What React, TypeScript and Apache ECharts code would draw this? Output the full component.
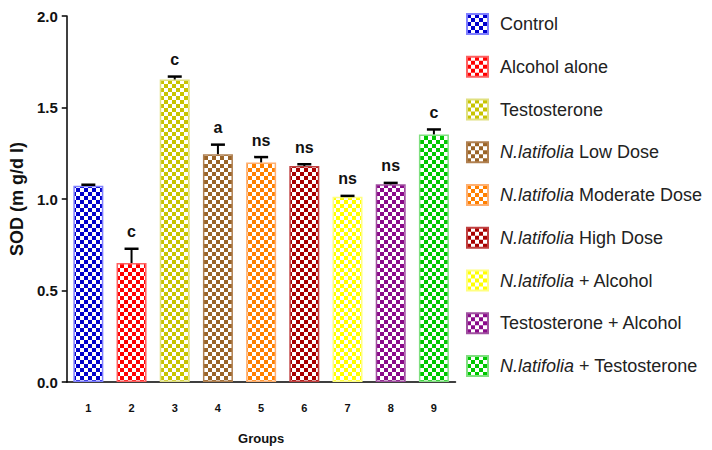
import { useEffect, useRef } from 'react';
import * as echarts from 'echarts';

const groups = ['1', '2', '3', '4', '5', '6', '7', '8', '9'];
const seriesNames = [
  'Control',
  'Alcohol alone',
  'Testosterone',
  'N.latifolia Low Dose',
  'N.latifolia Moderate Dose',
  'N.latifolia High Dose',
  'N.latifolia + Alcohol',
  'Testosterone + Alcohol',
  'N.latifolia + Testosterone',
];
const sodValues = [1.073, 0.65, 1.653, 1.245, 1.2, 1.18, 1.012, 1.08, 1.353];
const sodErrors = [0.005, 0.078, 0.016, 0.052, 0.029, 0.01, 0.005, 0.008, 0.027];
const sigLabels = ['', 'c', 'c', 'a', 'ns', 'ns', 'ns', 'ns', 'c'];
const colors = ['#0000cc', '#ff0000', '#c8c400', '#9a6428', '#ff8000', '#a80000', '#ffff00', '#8a0a8a', '#00c800'];
const borderColors = ['#8080ff', '#ff6060', '#e0e080', '#b08050', '#ffb070', '#c04040', '#ffff80', '#a050a0', '#80e080'];

const FONT = "'Liberation Sans Narrow', 'Liberation Sans', Arial, sans-serif";

function checker(color: string) {
  const c = document.createElement('canvas');
  c.width = 8;
  c.height = 8;
  const ctx = c.getContext('2d')!;
  ctx.fillStyle = '#ffffff';
  ctx.fillRect(0, 0, 8, 8);
  ctx.fillStyle = color;
  ctx.fillRect(0, 0, 4, 4);
  ctx.fillRect(4, 4, 4, 4);
  return c;
}

export default function App() {
  const ref = useRef<HTMLDivElement>(null);
  useEffect(() => {
    if (!ref.current) return;
    const chart = echarts.init(ref.current, null, { renderer: 'svg' });

    const barSeries = seriesNames.map((name, i) => ({
      name,
      type: 'bar',
      barWidth: 30,
      barGap: '-100%',
      data: groups.map((_, j) => (j === i ? sodValues[i] : '-')),
      itemStyle: {
        color: { image: checker(colors[i]), repeat: 'repeat' },
        borderColor: borderColors[i],
        borderWidth: 1.5,
      },
      emphasis: { disabled: true },
    }));

    const errData = groups.map((_, i) => [i, sodValues[i], sodValues[i] + sodErrors[i], sigLabels[i]]);

    const errSeries = {
      type: 'custom',
      name: 'err',
      data: errData,
      z: 10,
      renderItem: (params: any, api: any) => {
        const x = api.value(0);
        const lo = api.coord([x, api.value(1)]);
        const hi = api.coord([x, api.value(2)]);
        const label = errData[params.dataIndex][3] as string;
        const children: any[] = [
          {
            type: 'line',
            shape: { x1: lo[0], y1: lo[1], x2: hi[0], y2: hi[1] },
            style: { stroke: '#000', lineWidth: 2 },
          },
          {
            type: 'line',
            shape: { x1: hi[0] - 7, y1: hi[1], x2: hi[0] + 7, y2: hi[1] },
            style: { stroke: '#000', lineWidth: 2.5 },
          },
        ];
        if (label) {
          children.push({
            type: 'text',
            style: {
              text: label,
              x: hi[0],
              y: hi[1] - 9,
              align: 'center',
              verticalAlign: 'bottom',
              font: `bold 16px ${FONT}`,
              fill: '#111',
            },
          });
        }
        return { type: 'group', children };
      },
    };

    chart.setOption({
      animation: false,
      grid: { left: 64, top: 16, width: 391.5, height: 369, containLabel: false },
      legend: {
        orient: 'vertical',
        left: 466,
        top: 13,
        padding: 0,
        itemWidth: 21,
        itemHeight: 20,
        itemGap: 20.75,
        icon: 'rect',
        data: seriesNames,
        selectedMode: false,
        formatter: (name: string) => {
          if (name.startsWith('N.latifolia')) {
            return '{i|N.latifolia}{n|' + name.slice('N.latifolia'.length) + '}';
          }
          return '{n|' + name + '}';
        },
        textStyle: {
          padding: [0, 0, 0, 7],
          lineHeight: 20,
          rich: {
            i: { fontStyle: 'italic', fontSize: 18, lineHeight: 20, color: '#222', fontFamily: 'Liberation Sans, sans-serif' },
            n: { fontSize: 18, lineHeight: 20, color: '#222', fontFamily: 'Liberation Sans, sans-serif' },
          },
        },
      },
      xAxis: {
        type: 'category',
        data: groups,
        axisLine: { lineStyle: { color: '#000', width: 1.5 } },
        axisTick: { alignWithLabel: true, length: 6, lineStyle: { color: '#000', width: 1.5 } },
        axisLabel: { fontWeight: 'bold', fontSize: 11, color: '#111', margin: 20, fontFamily: FONT },
        name: 'Groups',
        nameLocation: 'middle',
        nameGap: 50,
        nameTextStyle: { fontWeight: 'bold', fontSize: 13, color: '#111', fontFamily: 'Liberation Sans, sans-serif' },
      },
      yAxis: {
        type: 'value',
        min: 0,
        max: 2,
        interval: 0.5,
        axisLine: { show: true, lineStyle: { color: '#000', width: 1.5 } },
        axisTick: { show: true, length: 5, lineStyle: { color: '#000', width: 1.5 } },
        splitLine: { show: false },
        axisLabel: {
          formatter: (v: number) => v.toFixed(1),
          fontWeight: 'bold',
          fontSize: 15,
          color: '#111',
          margin: 9,
          fontFamily: FONT,
        },
        name: 'SOD (m g/d l)',
        nameLocation: 'middle',
        nameGap: 40,
        nameRotate: 90,
        nameTextStyle: { fontWeight: 'bold', fontSize: 18, color: '#111', fontFamily: 'Liberation Sans, sans-serif' },
      },
      series: [...barSeries, errSeries],
    });
    return () => chart.dispose();
  }, []);
  return <div ref={ref} style={{ position: 'absolute', left: 0, top: 0, width: 712, height: 450 }} />;
}
